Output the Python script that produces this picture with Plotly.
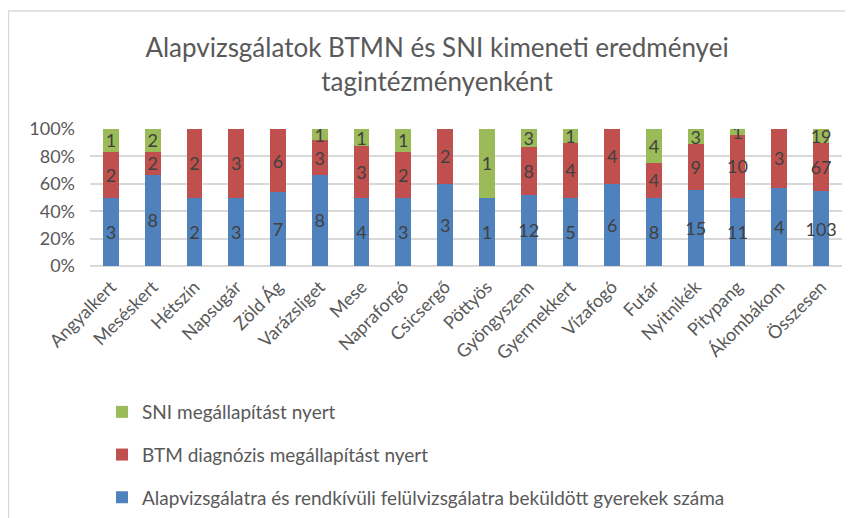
import plotly.graph_objects as go

categories = ["Angyalkert", "Meséskert", "Hétszín", "Napsugár", "Zöld Ág", "Varázsliget",
              "Mese", "Napraforgó", "Csicsergő", "Pöttyös", "Gyöngyszem", "Gyermekkert",
              "Vízafogó", "Futár", "Nyitnikék", "Pitypang", "Ákombákom", "Összesen"]
alap = [3, 8, 2, 3, 7, 8, 4, 3, 3, 1, 12, 5, 6, 8, 15, 11, 4, 103]
btm = [2, 2, 2, 3, 6, 3, 3, 2, 2, 0, 8, 4, 4, 4, 9, 10, 3, 67]
sni = [1, 2, 0, 0, 0, 1, 1, 1, 0, 1, 3, 1, 0, 4, 3, 1, 0, 19]

series_names = ["Alapvizsgálatra és rendkívüli felülvizsgálatra beküldött gyerekek száma",
                "BTM diagnózis megállapítást nyert",
                "SNI megállapítást nyert"]
series_values = [alap, btm, sni]
series_colors = ["#4f81bd", "#c0504d", "#9bbb59"]
legend_ranks = [3, 2, 1]
y_ticks = [0, 20, 40, 60, 80, 100]
y_tick_labels = ["0%", "20%", "40%", "60%", "80%", "100%"]

FONT = "Lato, 'Open Sans', sans-serif"
GRAY = "#595959"

fig = go.Figure()
for i, (name, vals, col) in enumerate(zip(series_names, series_values, series_colors)):
    fig.add_trace(go.Bar(
        x=categories, y=vals, name=name,
        marker=dict(color=col, line=dict(width=0)),
        text=[str(v) if v else "" for v in vals],
        textposition="inside", insidetextanchor="middle",
        textangle=0, constraintext="none",
        textfont=dict(family=FONT, size=18, color="#404040"),
        legendgroup=str(i), legendrank=legend_ranks[i],
    ))

# page body has an 8px margin; figure sized so it fills the window
OFF = 8
W, H = 853 - OFF, 518 - OFF
ml, mr, mt, mb = 90 - OFF, 11, 129 - OFF, 518 - 266
pw, ph = W - ml - mr, H - mt - mb

def px_x(p):
    return (p - OFF - ml) / pw

def px_y(p):
    return 1 - (p - OFF - mt) / ph

fig.update_layout(
    width=W, height=H,
    margin=dict(l=ml, r=mr, t=mt, b=mb, autoexpand=False),
    barmode="stack", barnorm="percent", bargap=0.62,
    paper_bgcolor="white", plot_bgcolor="white",
    font=dict(family=FONT, color=GRAY),
    title=dict(text="Alapvizsgálatok BTMN és SNI kimeneti eredményei<br>tagintézményenként",
               x=(437 - OFF) / W, xanchor="center", y=1 - (57 - OFF) / H, yanchor="middle",
               font=dict(family=FONT, size=26, color=GRAY)),
    xaxis=dict(tickangle=-45, tickfont=dict(size=18, color=GRAY), showgrid=False,
               showline=False, ticks="", ticklabelstandoff=6),
    yaxis=dict(range=[0, 100], tickvals=y_ticks, ticktext=y_tick_labels,
               tickfont=dict(size=18, color=GRAY), showgrid=True, gridcolor="#d9d9d9",
               gridwidth=1.5, zeroline=True, zerolinecolor="#d9d9d9", zerolinewidth=1.5,
               ticks="", ticklabelstandoff=14),
    legend=dict(orientation="v", traceorder="grouped", tracegroupgap=15,
                x=px_x(102), xanchor="left", y=px_y(393), yanchor="top",
                font=dict(size=19, color=GRAY), bgcolor="rgba(0,0,0,0)"),
    showlegend=True,
    shapes=[dict(type="rect", xref="paper", yref="paper",
                 x0=px_x(8.5), x1=px_x(900), y0=px_y(600), y1=px_y(11),
                 line=dict(color="#d9d9d9", width=1.5), fillcolor="rgba(0,0,0,0)",
                 layer="below")],
)

fig.write_html("out.html")
